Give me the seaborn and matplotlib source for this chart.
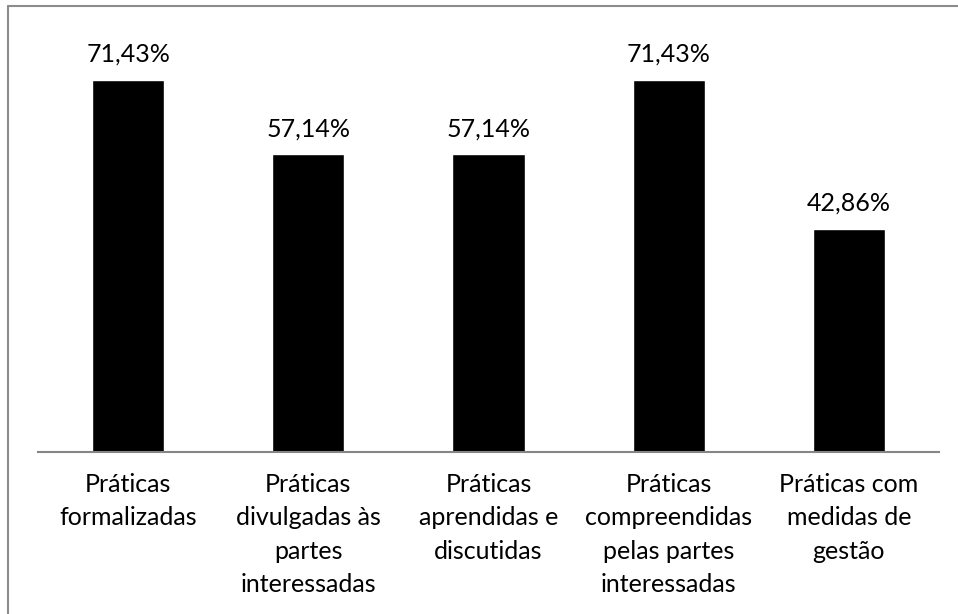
import matplotlib
matplotlib.use("Agg")
import matplotlib.pyplot as plt
import matplotlib.lines as mlines
import seaborn as sns
import pandas as pd

categorias = [
    "Práticas\nformalizadas",
    "Práticas\ndivulgadas às\npartes\ninteressadas",
    "Práticas\naprendidas e\ndiscutidas",
    "Práticas\ncompreendidas\npelas partes\ninteressadas",
    "Práticas com\nmedidas de\ngestão",
]
percentuais = [71.43, 57.14, 57.14, 71.43, 42.86]

sns.set_theme(style="white")
plt.rcParams["font.family"] = ["Lato", "DejaVu Sans"]

W, H = 958, 614
fig = plt.figure(figsize=(W / 100, H / 100), dpi=100)
ax = fig.add_axes([38 / W, 1 - 452 / H, (939 - 38) / W, (452 - 35) / H])

df = pd.DataFrame({"cat": categorias, "pct": percentuais})
sns.barplot(data=df, x="cat", y="pct", color="black", width=0.4,
            saturation=1, ax=ax)

ax.set_ylim(0, 80)
ax.set_xlim(-0.5, len(categorias) - 0.5)
ax.set_xlabel("")
ax.set_ylabel("")
ax.set_yticks([])
for side in ["top", "right", "left"]:
    ax.spines[side].set_visible(False)
ax.spines["bottom"].set_color("#868686")
ax.spines["bottom"].set_linewidth(1.5)

ax.tick_params(axis="x", length=0, pad=15, labelsize=18)
for lbl in ax.get_xticklabels():
    lbl.set_linespacing(1.55)
    lbl.set_color("black")

for i, v in enumerate(percentuais):
    ax.annotate(f"{v:.2f}%".replace(".", ","), xy=(i, v), xytext=(0, 13),
                textcoords="offset points", ha="center", va="baseline",
                fontsize=18, color="black")

# frame lines on the top and left edges
fig.add_artist(mlines.Line2D([8 / W, 1], [1 - 6 / H, 1 - 6 / H],
                             color="#8c8c8c", lw=1.5, transform=fig.transFigure))
fig.add_artist(mlines.Line2D([8 / W, 8 / W], [0, 1 - 6 / H],
                             color="#8c8c8c", lw=1.5, transform=fig.transFigure))

fig.savefig("out.png", dpi=100)
